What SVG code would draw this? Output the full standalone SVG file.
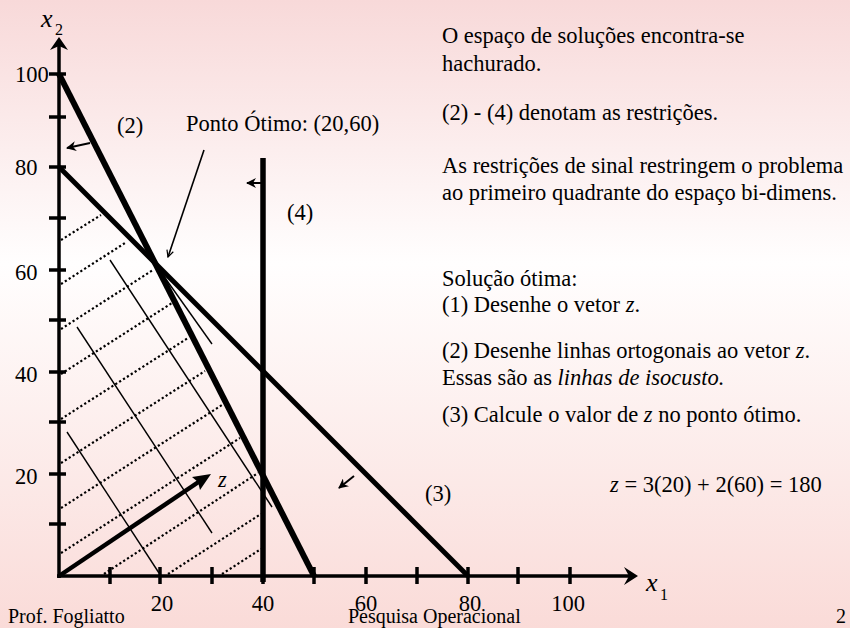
<svg xmlns="http://www.w3.org/2000/svg" width="850" height="628" viewBox="0 0 850 628">
  <defs>
    <linearGradient id="bg" x1="0" y1="0" x2="0" y2="1">
      <stop offset="0" stop-color="#f8d9d9"/>
      <stop offset="0.42" stop-color="#fffefe"/>
      <stop offset="1" stop-color="#fadbd8"/>
    </linearGradient>
    <marker id="barb" viewBox="0 0 10 10" refX="9" refY="5" markerWidth="5" markerHeight="5" orient="auto" markerUnits="strokeWidth">
      <path d="M0,0 L10,5 L0,10 L3,5 Z" fill="#000"/>
    </marker>
    <marker id="vee" viewBox="0 0 12 12" refX="11" refY="6" markerWidth="8" markerHeight="8" orient="auto" markerUnits="userSpaceOnUse">
      <path d="M1,1 L11,6 L1,11" fill="none" stroke="#000" stroke-width="1.8"/>
    </marker>
  </defs>
  <style>
    .axis { stroke: #000; stroke-width: 3.5; fill: none; }
    .tick { stroke: #000; stroke-width: 3.5; }
    .hatch { stroke: #000; stroke-width: 2.2; stroke-dasharray: 2.2 2.4; fill: none; }
    .iso { stroke: #000; stroke-width: 1.4; fill: none; }
    .con { stroke: #000; fill: none; stroke-linecap: butt; }
    .sarrow { stroke: #000; stroke-width: 2; fill: none; marker-end: url(#barb); }
    .ft { font-family: "Liberation Serif", "Times New Roman", serif; font-size: 20px; fill: #000; }
    .var { font-family: "Liberation Serif", "Times New Roman", serif; font-style: italic; font-size: 26px; fill: #000; }
    .sub { font-family: "Liberation Serif", "Times New Roman", serif; font-size: 16px; fill: #000; }
    .lbl { font-family: "Liberation Serif", "Times New Roman", serif; font-size: 22.5px; fill: #000; }
    .it { font-style: italic; }
  </style>
  <rect x="0" y="0" width="850" height="628" fill="url(#bg)"/>

  <g id="diagram" font-family="Liberation Serif, Times New Roman, serif" font-size="22.5">
  <g id="hatching">
    <line class="hatch" x1="61" y1="240" x2="101" y2="215"/>
    <line class="hatch" x1="61" y1="284" x2="125" y2="243"/>
    <line class="hatch" x1="61" y1="329" x2="153" y2="270"/>
    <line class="hatch" x1="61" y1="374" x2="172" y2="303"/>
    <line class="hatch" x1="61" y1="419" x2="188" y2="338"/>
    <line class="hatch" x1="61" y1="463" x2="205" y2="371"/>
    <line class="hatch" x1="61" y1="508" x2="222" y2="405"/>
    <line class="hatch" x1="61" y1="553" x2="240" y2="438"/>
    <line class="hatch" x1="104" y1="574" x2="258" y2="473"/>
    <line class="hatch" x1="168" y1="574" x2="261" y2="514"/>
    <line class="hatch" x1="222" y1="574" x2="261" y2="549"/>
  </g>

  <g id="isocost">
    <line class="iso" x1="67" y1="432" x2="159" y2="573"/>
    <line class="iso" x1="77" y1="327" x2="212" y2="533"/>
    <line class="iso" x1="110" y1="260" x2="272" y2="507"/>
    <line class="iso" x1="158" y1="268" x2="212" y2="344"/>
  </g>

  <g id="axes">
    <line class="axis" x1="59" y1="578" x2="59" y2="44"/>
    <path d="M59,37 L50,50 L59,46 L68,50 Z" fill="#000"/>
    <line class="axis" x1="57" y1="576" x2="631" y2="576"/>
    <path d="M638,576 L624,567 L629,576 L624,585 Z" fill="#000"/>
    <g class="tick">
      <line x1="49" y1="74" x2="66" y2="74"/>
      <line x1="49" y1="117" x2="66" y2="117"/>
      <line x1="49" y1="167" x2="66" y2="167"/>
      <line x1="49" y1="218" x2="66" y2="218"/>
      <line x1="49" y1="270" x2="66" y2="270"/>
      <line x1="49" y1="320" x2="66" y2="320"/>
      <line x1="49" y1="372" x2="66" y2="372"/>
      <line x1="49" y1="422" x2="66" y2="422"/>
      <line x1="49" y1="474" x2="66" y2="474"/>
      <line x1="49" y1="524" x2="66" y2="524"/>
      <line x1="110" y1="567" x2="110" y2="584"/>
      <line x1="160" y1="567" x2="160" y2="584"/>
      <line x1="212" y1="567" x2="212" y2="584"/>
      <line x1="263" y1="567" x2="263" y2="584"/>
      <line x1="314" y1="567" x2="314" y2="584"/>
      <line x1="366" y1="567" x2="366" y2="584"/>
      <line x1="417" y1="567" x2="417" y2="584"/>
      <line x1="468" y1="567" x2="468" y2="584"/>
      <line x1="518" y1="567" x2="518" y2="584"/>
      <line x1="570" y1="567" x2="570" y2="584"/>
    </g>
    <text class="lbl" x="15" y="82">100</text>
    <text class="lbl" x="15" y="175">80</text>
    <text class="lbl" x="15" y="280">60</text>
    <text class="lbl" x="15" y="382">40</text>
    <text class="lbl" x="15" y="484">20</text>
    <text class="lbl" x="162" y="611" text-anchor="middle">20</text>
    <text class="lbl" x="263" y="611" text-anchor="middle">40</text>
    <text class="lbl" x="366" y="611" text-anchor="middle">60</text>
    <text class="lbl" x="470" y="611" text-anchor="middle">80</text>
    <text class="lbl" x="568" y="611" text-anchor="middle">100</text>
    <text class="var" x="41" y="27">x</text>
    <text class="sub" x="55" y="35">2</text>
    <text class="var" x="646" y="591">x</text>
    <text class="sub" x="660" y="600">1</text>
  </g>

  <g id="constraint-2">
    <line class="con" x1="59" y1="74" x2="314" y2="576" stroke-width="6"/>
    <line class="sarrow" x1="90" y1="143" x2="67" y2="148"/>
    <text class="lbl" x="117" y="133">(2)</text>
  </g>

  <g id="constraint-3">
    <line class="con" x1="59" y1="167" x2="468" y2="576" stroke-width="5"/>
    <line class="sarrow" x1="354" y1="476" x2="339" y2="488"/>
    <text class="lbl" x="425" y="501">(3)</text>
  </g>

  <g id="constraint-4">
    <line class="con" x1="263" y1="158" x2="263" y2="582" stroke-width="5.5"/>
    <line class="sarrow" x1="262" y1="183" x2="247" y2="183"/>
    <text class="lbl" x="287" y="220">(4)</text>
  </g>

  <g id="z-vector">
    <line x1="59" y1="576" x2="200" y2="481" stroke="#000" stroke-width="4.5"/>
    <path d="M211,474 L192,477 L198,482 L200,490 Z" fill="#000"/>
    <text class="lbl it" x="218" y="487">z</text>
  </g>

  <g id="optimum">
    <text class="lbl" x="186" y="131">Ponto Ótimo: (20,60)</text>
    <line x1="204" y1="150" x2="168" y2="257" stroke="#000" stroke-width="1.6" marker-end="url(#vee)"/>
  </g>

  <g id="notes">
    <text class="lbl" x="442" y="43">O espaço de soluções encontra-se</text>
    <text class="lbl" x="442" y="71">hachurado.</text>
    <text class="lbl" x="442" y="120">(2) - (4) denotam as restrições.</text>
    <text class="lbl" x="442" y="173">As restrições de sinal restringem o problema</text>
    <text class="lbl" x="442" y="200">ao primeiro quadrante do espaço bi-dimens.</text>
    <text class="lbl" x="442" y="286">Solução ótima:</text>
    <text class="lbl" x="442" y="312">(1) Desenhe o vetor <tspan class="it">z</tspan>.</text>
    <text class="lbl" x="442" y="358">(2) Desenhe linhas ortogonais ao vetor <tspan class="it">z</tspan>.</text>
    <text class="lbl" x="442" y="385">Essas são as <tspan class="it">linhas de isocusto.</tspan></text>
    <text class="lbl" x="442" y="422">(3) Calcule o valor de <tspan class="it">z</tspan> no ponto ótimo.</text>
    <text class="lbl" x="610" y="492"><tspan class="it">z</tspan> = 3(20) + 2(60) = 180</text>
  </g>

  <g id="footer">
    <text class="ft" x="8" y="623">Prof. Fogliatto</text>
    <text class="ft" x="348" y="623">Pesquisa Operacional</text>
    <text class="ft" x="836" y="623">2</text>
  </g>
  </g>
</svg>
